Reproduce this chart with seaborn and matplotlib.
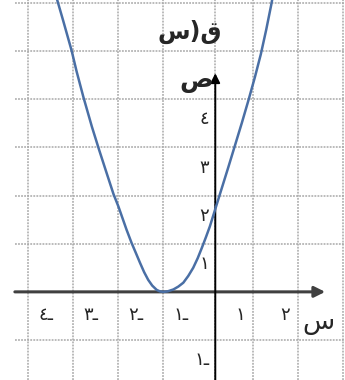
import matplotlib
matplotlib.use("Agg")
import matplotlib.pyplot as plt
import seaborn as sns
import pandas as pd

sns.set_style("white")
plt.rcParams['font.family'] = ['DejaVu Sans']

# curve q(x) (grid units)
curve_x = [-3.40, -3.35, -3.22, -3.03, -2.92, -2.77, -2.58, -2.42, -2.25, -2.10,
           -1.99, -1.81, -1.70, -1.60, -1.51, -1.42, -1.33, -1.24, -1.14, -1.07,
           -0.99, -0.90, -0.77, -0.66, -0.55, -0.44, -0.33, -0.23, -0.14, -0.05,
           0.04, 0.16, 0.30, 0.45, 0.60, 0.75, 0.90, 1.04, 1.17, 1.29,
           1.40, 1.43]
curve_y = [6.25, 6.06, 5.64, 5.01, 4.58, 4.05, 3.43, 2.95, 2.46, 2.03,
           1.77, 1.29, 1.02, 0.80, 0.60, 0.41, 0.25, 0.13, 0.04, 0.01,
           0.00, 0.01, 0.05, 0.11, 0.19, 0.33, 0.50, 0.70, 0.91, 1.13,
           1.36, 1.72, 2.14, 2.59, 3.05, 3.51, 3.99, 4.46, 4.93, 5.44,
           5.95, 6.10]

# ticks and labels
x_ticks = [-4, -3, -2, -1, 1, 2]
x_labels = ['٤ـ', '٣ـ', '٢ـ', '١ـ', '١', '٢']
y_ticks = [4, 3, 2, 1, -1]
y_labels = ['٤', '٣', '٢', '١', '١ـ']
grid_x = [-4, -3, -2, -1, 0, 1, 2, 3]
grid_y = [-1, 1, 2, 3, 4, 5, 6]

title_txt = 'س)ق'
x_name = 'س'
y_name = 'ص'

df = pd.DataFrame({'x': curve_x, 'y': curve_y})

fig = plt.figure(figsize=(3.45, 3.8), dpi=100)
ax = fig.add_axes([0, 0, 1, 1])
xmin, xmax = -4.62, 3.04
ymin, ymax = -1.83, 6.06
yaxis_x = 0.16

grid_kw = dict(color='#a8a8a8', lw=1.1, ls=(0, (1.2, 0.8)), zorder=1)
for gx in grid_x:
    ax.plot([yaxis_x if gx == 0 else gx] * 2, [ymin, ymax], **grid_kw)
for gy in grid_y:
    ax.plot([-4.29, xmax], [gy, gy], **grid_kw)

# axes with arrows
ax.annotate('', xy=(2.6, 0), xytext=(-4.29, 0),
            arrowprops=dict(arrowstyle='-|>', color='#404040', lw=2.2,
                            mutation_scale=16, shrinkA=0, shrinkB=0), zorder=3)
ax.annotate('', xy=(yaxis_x, 4.54), xytext=(yaxis_x, ymin),
            arrowprops=dict(arrowstyle='-|>', color='black', lw=1.4,
                            mutation_scale=14, shrinkA=0, shrinkB=0), zorder=3)

sns.lineplot(data=df, x='x', y='y', ax=ax, color='#4a6fa5', lw=1.8,
             estimator=None, zorder=4)

for t, lab in zip(x_ticks, x_labels):
    off = 0.4 if t < 0 else -0.29
    ax.text(t + off, -0.48, lab, ha='center', va='center', fontsize=13)
for t, lab in zip(y_ticks, y_labels):
    ax.text(0.03, t - 0.42, lab, ha='right', va='center', fontsize=13)

ax.text(-0.4, 5.39, title_txt, ha='center', va='center', fontsize=17,
        fontweight='bold')
ax.text(-0.27, 4.38, y_name, ha='center', va='center', fontsize=18,
        fontweight='bold')
ax.text(2.44, -0.62, x_name, ha='center', va='center', fontsize=19)

ax.set_xlim(xmin, xmax)
ax.set_ylim(ymin, ymax)
ax.axis('off')
fig.savefig('out.png', dpi=100)
